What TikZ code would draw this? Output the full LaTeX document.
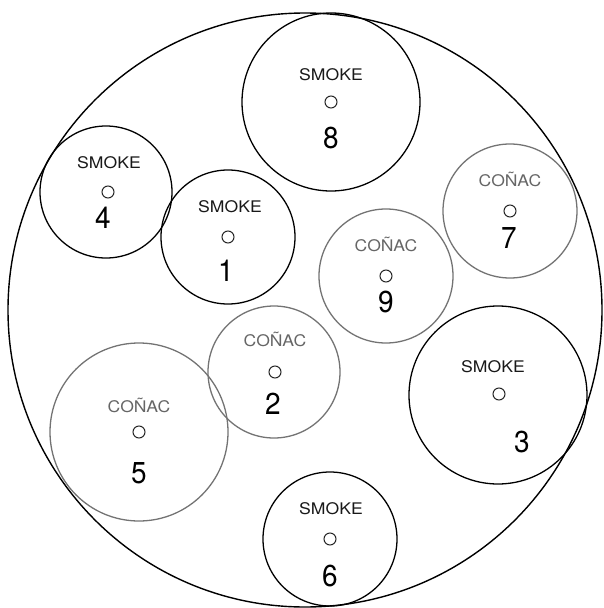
\documentclass[tikz,border=0pt]{standalone}
\usepackage{fontspec}
\setmainfont{TeX Gyre Heros}
\begin{document}
\begin{tikzpicture}[x=1pt,y=-1pt,
  ring/.style={circle,draw,line width=1.3pt,inner sep=0pt,minimum size=#1},
  smokering/.style={ring=#1,draw=black},
  conacring/.style={ring=#1,draw=black!55},
  smoketxt/.style={font=\fontsize{16}{16}\selectfont,text=black!90,inner sep=0pt,xscale=1.1},
  conactxt/.style={font=\fontsize{16}{16}\selectfont,text=black!60,inner sep=0pt,xscale=1.1},
  numtxt/.style={font=\fontsize{28}{28}\selectfont,text=black,inner sep=0pt,yscale=1.08},
  hole/.style={circle,draw=black!85,line width=1pt,inner sep=0pt,minimum size=12pt}
]
\useasboundingbox (0,0) rectangle (604,608);
\node[ring=594pt,draw=black,line width=1.4pt] (big) at (305,310) {};
% smoke rings
\node[smokering=178pt] (c8) at (331,102) {};
\node[smokering=132pt] (c4) at (106,192) {};
\node[smokering=134pt] (c1) at (228,237) {};
\node[smokering=178pt] (c3) at (498,395) {};
\node[smokering=134pt] (c6) at (330,539) {};
% conac rings
\node[conacring=134pt] (c7) at (510,211) {};
\node[conacring=134pt] (c9) at (386,276) {};
\node[conacring=132pt] (c2) at (274,372) {};
\node[conacring=178pt] (c5) at (139,432) {};
% labels
\node[smoketxt] (t8) at (331,75) {SMOKE};
\node[hole] (h8) at (331,102) {};
\node[numtxt] (n8) at (331,138) {8};
\node[smoketxt] (t4) at (109,163) {SMOKE};
\node[hole] (h4) at (108,192) {};
\node[numtxt] (n4) at (103,218) {4};
\node[smoketxt] (t1) at (230,207) {SMOKE};
\node[hole] (h1) at (228,237) {};
\node[numtxt] (n1) at (226,271) {1};
\node[conactxt] (t7) at (510,179) {COÑAC};
\node[hole] (h7) at (510,211) {};
\node[numtxt] (n7) at (509,238) {7};
\node[conactxt] (t9) at (386,244) {COÑAC};
\node[hole] (h9) at (386,276) {};
\node[numtxt] (n9) at (386,302) {9};
\node[conactxt] (t2) at (275,339) {COÑAC};
\node[hole] (h2) at (275,372) {};
\node[numtxt] (n2) at (273,404) {2};
\node[conactxt] (t5) at (139,405) {COÑAC};
\node[hole] (h5) at (139,432) {};
\node[numtxt] (n5) at (139,473) {5};
\node[smoketxt] (t3) at (493,367) {SMOKE};
\node[hole] (h3) at (499,394) {};
\node[numtxt] (n3) at (522,442) {3};
\node[smoketxt] (t6) at (331,509) {SMOKE};
\node[hole] (h6) at (330,539) {};
\node[numtxt] (n6) at (330,576) {6};
\end{tikzpicture}
\end{document}
